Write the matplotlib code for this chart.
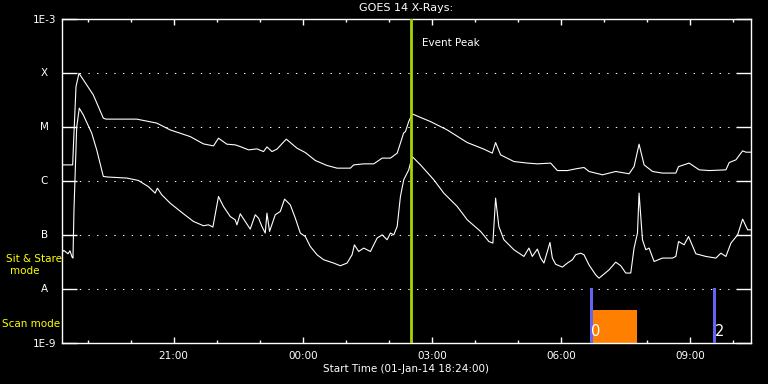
import matplotlib
matplotlib.use("Agg")
import matplotlib.pyplot as plt
import matplotlib.dates as mdates
import numpy as np

# GOES 14 X-ray flux, hours after start time 01-Jan-14 18:24
start = np.datetime64("2014-01-01T18:24")

hours_long = [0.0, 0.256, 0.263, 0.333, 0.402, 0.735, 0.967, 1.03, 1.744, 2.209,
              2.519, 2.984, 3.293, 3.526, 3.642, 3.837, 4.03, 4.147, 4.34, 4.535,
              4.688, 4.767, 4.884, 5.0, 5.216, 5.465, 5.658, 5.891, 6.163, 6.395,
              6.705, 6.781, 7.014, 7.247, 7.442, 7.635, 7.791, 7.867, 7.94, 7.984,
              8.06, 8.14, 8.565, 8.953, 9.419, 9.805, 10.0, 10.077, 10.193, 10.502,
              10.814, 11.047, 11.356, 11.512, 11.744, 11.937, 12.13, 12.247, 12.558, 12.867,
              13.177, 13.293, 13.409, 13.526, 13.721, 13.953, 14.263, 14.326, 14.572, 14.805,
              15.037, 15.426, 15.502, 15.658, 15.814, 15.891, 16.0]
flux_long = [2.0e-6, 2.0e-6, 2.86e-6, 5.65e-5, 1.0e-4, 3.96e-5, 1.47e-5, 1.41e-5, 1.41e-5, 1.19e-5,
             8.9e-6, 6.7e-6, 4.9e-6, 4.5e-6, 6.25e-6, 4.84e-6, 4.7e-6, 4.37e-6, 3.8e-6, 3.96e-6,
             3.53e-6, 4.31e-6, 3.53e-6, 3.92e-6, 6.0e-6, 4.08e-6, 3.39e-6, 2.41e-6, 1.95e-6, 1.74e-6,
             1.74e-6, 2.0e-6, 2.09e-6, 2.09e-6, 2.67e-6, 2.67e-6, 3.3e-6, 5.06e-6, 7.74e-6, 8.3e-6,
             1.27e-5, 1.76e-5, 1.27e-5, 8.9e-6, 5.19e-6, 3.92e-6, 3.3e-6, 5.19e-6, 3.07e-6, 2.31e-6,
             2.16e-6, 2.09e-6, 2.16e-6, 1.57e-6, 1.57e-6, 1.69e-6, 1.79e-6, 1.51e-6, 1.31e-6, 1.51e-6,
             1.37e-6, 1.86e-6, 4.84e-6, 2.0e-6, 1.51e-6, 1.41e-6, 1.41e-6, 1.86e-6, 2.16e-6, 1.62e-6,
             1.57e-6, 1.62e-6, 2.21e-6, 2.48e-6, 3.64e-6, 3.44e-6, 3.44e-6]

hours_short = [0.0, 0.053, 0.147, 0.193, 0.24, 0.263, 0.286, 0.349, 0.409, 0.502,
               0.698, 0.814, 0.967, 1.084, 1.512, 1.781, 2.014, 2.17, 2.223, 2.326,
               2.519, 2.791, 3.06, 3.293, 3.409, 3.512, 3.642, 3.758, 3.914, 4.03,
               4.07, 4.147, 4.263, 4.379, 4.495, 4.572, 4.651, 4.728, 4.767, 4.828,
               4.96, 5.077, 5.177, 5.309, 5.426, 5.542, 5.658, 5.774, 5.93, 6.084,
               6.316, 6.472, 6.628, 6.744, 6.798, 6.898, 7.014, 7.17, 7.326, 7.442,
               7.558, 7.635, 7.712, 7.791, 7.867, 7.944, 8.06, 8.14, 8.333, 8.642,
               8.874, 9.186, 9.419, 9.728, 9.921, 10.014, 10.077, 10.153, 10.27, 10.502,
               10.735, 10.851, 10.93, 11.047, 11.123, 11.2, 11.279, 11.34, 11.395, 11.472,
               11.628, 11.744, 11.86, 11.937, 12.053, 12.13, 12.247, 12.402, 12.479, 12.558,
               12.712, 12.867, 12.984, 13.1, 13.216, 13.293, 13.372, 13.409, 13.488, 13.565,
               13.642, 13.758, 13.953, 14.186, 14.263, 14.326, 14.456, 14.558, 14.728, 14.96,
               15.193, 15.309, 15.426, 15.542, 15.698, 15.814, 15.93, 16.0]
flux_short = [4.77e-8, 5.19e-8, 4.5e-8, 5.12e-8, 3.92e-8, 3.75e-8, 2.94e-7, 1.0e-5, 2.25e-5, 1.69e-5,
              7.74e-6, 3.8e-6, 1.22e-6, 1.19e-6, 1.14e-6, 1.03e-6, 7.9e-7, 6.0e-7, 7.4e-7, 5.57e-7,
              3.91e-7, 2.62e-7, 1.79e-7, 1.49e-7, 1.55e-7, 1.41e-7, 5.19e-7, 3.39e-7, 2.21e-7, 1.92e-7,
              1.55e-7, 2.48e-7, 1.79e-7, 1.29e-7, 2.38e-7, 2.06e-7, 1.44e-7, 1.09e-7, 2.55e-7, 1.17e-7,
              2.38e-7, 2.74e-7, 4.64e-7, 3.64e-7, 2.06e-7, 1.09e-7, 9.4e-8, 6.15e-8, 4.32e-8, 3.49e-8,
              3.03e-8, 2.7e-8, 3.03e-8, 4.32e-8, 6.6e-8, 4.97e-8, 5.74e-8, 4.97e-8, 8.8e-8, 1.01e-7,
              8.2e-8, 1.09e-7, 1.01e-7, 1.44e-7, 5.19e-7, 1.06e-6, 1.62e-6, 2.86e-6, 2.0e-6, 1.06e-6,
              6.0e-7, 3.39e-7, 1.92e-7, 1.17e-7, 7.6e-8, 7.1e-8, 4.84e-7, 1.44e-7, 8.2e-8, 5.35e-8,
              4.02e-8, 5.74e-8, 4.02e-8, 5.5e-8, 3.75e-8, 3.03e-8, 4.97e-8, 7.3e-8, 3.75e-8, 2.88e-8,
              2.55e-8, 3.03e-8, 3.49e-8, 4.32e-8, 4.62e-8, 4.32e-8, 2.8e-8, 1.83e-8, 1.59e-8, 1.79e-8,
              2.27e-8, 3.15e-8, 2.7e-8, 1.98e-8, 1.98e-8, 5.74e-8, 1.09e-7, 6.0e-7, 8.2e-8, 5.35e-8,
              5.74e-8, 3.24e-8, 3.75e-8, 3.75e-8, 4.02e-8, 7.6e-8, 6.6e-8, 9.4e-8, 4.5e-8, 4.02e-8,
              3.75e-8, 4.62e-8, 4.02e-8, 7.1e-8, 1.01e-7, 1.98e-7, 1.25e-7, 1.25e-7]

class_levels = [1e-8, 1e-7, 1e-6, 1e-5, 1e-4]
class_names = ["A", "B", "C", "M", "X"]

event_peak = 8.12          # hours after start (02:31)
scan_lines = [12.29, 15.15]
scan_labels = ["0", "2"]
scan_bar = (12.31, 13.36, 4.1e-9)   # start, end, top flux

def to_time(h):
    return start + (np.asarray(h) * 3600).astype("timedelta64[s]")

fig = plt.figure(figsize=(7.68, 3.84), dpi=100, facecolor="black")
ax = fig.add_axes([0.0803, 0.1068, 0.8971, 0.8430], facecolor="black")

for lev in class_levels:
    ax.axhline(lev, color="white", lw=0.75, ls=(0, (1.3, 7)), zorder=1)

ax.plot(to_time(hours_long), flux_long, color="white", lw=0.8, zorder=3)
ax.plot(to_time(hours_short), flux_short, color="white", lw=0.8, zorder=3)

ax.axvline(to_time(event_peak), color="#a8d400", lw=2.0, zorder=4)
ax.text(to_time(event_peak + 0.25), 3.6e-4, "Event Peak", color="white",
        fontsize=7.5, va="center", ha="left")

b0, b1, btop = scan_bar
ax.fill_between([to_time(b0), to_time(b1)], 1e-9, btop, color="#ff8000", lw=0, zorder=2)
for h, lab in zip(scan_lines, scan_labels):
    ax.plot([to_time(h), to_time(h)], [1e-9, 1e-8], color="#6464f0", lw=2.2, zorder=3)
    ax.text(to_time(h + 0.01), 1.6e-9, lab, color="white", fontsize=10.5,
            ha="left", va="center", zorder=5)

ax.set_yscale("log")
ax.set_ylim(1e-9, 1e-3)
ax.set_xlim(to_time(0), to_time(16))

ax.yaxis.set_major_locator(matplotlib.ticker.FixedLocator([1e-9] + class_levels + [1e-3]))
ax.yaxis.set_minor_locator(matplotlib.ticker.NullLocator())
ax.set_yticklabels(["1E-9", "", "", "", "", "", "1E-3"])
for lev, name in zip(class_levels, class_names):
    ax.text(-0.0255, lev, name, color="white", fontsize=7.5, ha="center", va="center",
            transform=ax.get_yaxis_transform())

ax.xaxis.set_major_locator(mdates.HourLocator(byhour=range(0, 24, 3)))
ax.xaxis.set_minor_locator(mdates.HourLocator())
ax.xaxis.set_major_formatter(mdates.DateFormatter("%H:%M"))

ax.tick_params(axis="y", which="major", direction="in", length=11, width=1.0,
               left=True, right=True, colors="white", labelsize=7.5, pad=3.6)
ax.tick_params(axis="x", which="major", direction="in", length=4.3, width=1.0,
               top=True, bottom=True, colors="white", labelsize=7.5, pad=5.5)
ax.tick_params(axis="x", which="minor", direction="in", length=2.2, width=1.0,
               top=True, bottom=True, colors="white")
for sp in ax.spines.values():
    sp.set_color("white")
    sp.set_linewidth(1.0)

ax.text(0.5, 1.035, "GOES 14 X-Rays:", color="white", fontsize=8, ha="center",
        va="center", transform=ax.transAxes)
ax.text(0.5, -0.08, "Start Time (01-Jan-14 18:24:00)", color="white", fontsize=7.5,
        ha="center", va="center", transform=ax.transAxes)

fig.text(34.5 / 768, 1 - 259 / 384, "Sit & Stare", color="#ffff00", fontsize=7.5,
         ha="center", va="center")
fig.text(24.5 / 768, 1 - 271 / 384, "mode", color="#ffff00", fontsize=7.5,
         ha="center", va="center")
fig.text(2 / 768, 1 - 324 / 384, "Scan mode", color="#ffff00", fontsize=7.5,
         ha="left", va="center")

fig.savefig("out.png", dpi=100, facecolor="black")
